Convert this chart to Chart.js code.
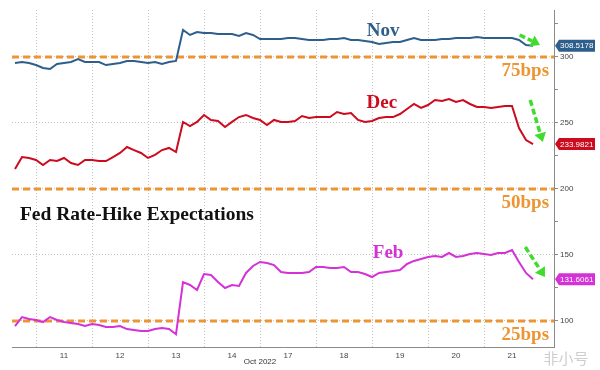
<!DOCTYPE html>
<html>
<head>
<meta charset="utf-8">
<script src="https://cdn.jsdelivr.net/npm/chart.js@4.4.0/dist/chart.umd.min.js"></script>
<style>
  html, body { margin: 0; padding: 0; background: #fff; }
  #wrap { width: 600px; height: 370px; }
</style>
</head>
<body>
<div id="wrap"><canvas id="rateChart" width="600" height="370"></canvas></div>
<script>
// intraday samples, 8 per trading day (Oct 10 afternoon .. Oct 21)
const dayLabels = ['11', '12', '13', '14', '17', '18', '19', '20', '21'];
const dayStart = [3, 11, 19, 27, 35, 43, 51, 59, 67];
const dayMid = [7, 15, 23, 31, 39, 47, 55, 63, 71];

const nov = [295.5, 296.2, 295.5, 293.9, 291.7, 290.9, 294.7, 295.5, 296.2, 298.5,
    296.2, 296.2, 296.2, 293.9, 294.7, 295.5, 297, 297, 296.2, 295.5,
    296.2, 294.7, 296.2, 297, 320.5, 316.7, 318.9, 318.2, 318.2, 317.4,
    317.4, 317.4, 315.9, 318.2, 316.7, 313.6, 313.6, 313.6, 313.6, 314.4,
    314.4, 313.6, 312.9, 312.9, 312.9, 313.6, 313.6, 314.4, 312.9, 312.9,
    312.1, 311.4, 309.8, 310.6, 311.4, 311.4, 312.9, 314.4, 312.9, 312.9,
    312.9, 313.6, 313.6, 314.4, 314.4, 314.4, 315.2, 314.4, 314.4, 314.4,
    314.4, 314.4, 312.9, 309.1, 308.5];
const dec = [215.2, 224.2, 223.5, 222, 218.2, 222, 221.2, 223.5, 219.7, 218.2,
    222, 222, 221.2, 221.2, 224.2, 227.3, 231.8, 229.5, 227.3, 223.5,
    225.8, 229.5, 231.1, 228, 250.8, 247.7, 250.8, 256.1, 252.3, 251.5,
    247, 250.8, 254.5, 256.1, 253.8, 252.3, 248.5, 252.3, 250.8, 250.8,
    251.5, 255.3, 253.8, 254.5, 254.5, 254.5, 258.3, 256.8, 257.6, 252.3,
    250.8, 251.5, 253.8, 254.5, 254.5, 256.8, 260.6, 264.4, 261.4, 263.6,
    267.4, 266.7, 268.2, 265.9, 267.4, 264.4, 262.1, 262.1, 261.4, 262.1,
    262.9, 262.9, 246.2, 237.1, 234];
const feb = [96.2, 103, 101.5, 100.8, 99.2, 103, 100.8, 99.2, 98.5, 97.7,
    96.2, 97.7, 97, 95.5, 95.5, 96.2, 93.9, 93.2, 92.4, 92.4,
    93.9, 94.7, 93.9, 90, 129.5, 127.3, 123.5, 135.6, 134.8, 129.5,
    125, 127.3, 126.5, 136.4, 141.7, 144.7, 143.9, 142.4, 137.1, 136.4,
    136.4, 136.4, 137.1, 140.9, 140.9, 140.2, 140.2, 140.9, 137.1, 137.1,
    135.6, 133.3, 136.4, 137.1, 137.9, 138.6, 143.2, 145.5, 147, 148.5,
    149.2, 148.5, 151.5, 148.5, 149.2, 150.8, 151.5, 150.8, 150, 151.5,
    151.5, 153.8, 144.7, 136.4, 131.6];

const seriesNames = ['Nov', 'Dec', 'Feb'];
const lastValues = ['308.5178', '233.9821', '131.6061'];
const bpsLevels = [300, 200, 100];
const bpsLabels = ['75bps', '50bps', '25bps'];
const yTicks = [100, 125, 150, 175, 200, 225, 250, 275, 300, 325];

const colors = ['#2e5f8c', '#cc0b1f', '#d431d6'];
const orange = '#ec9532';
const X_MIN = -0.43, X_MAX = 77;

const samples = nov.map((v, i) => i);

function levelLine(level) {
    return {
        data: [{x: X_MIN, y: level}, {x: X_MAX, y: level}],
        borderColor: orange,
        borderWidth: 3,
        borderDash: [7, 4],
        pointRadius: 0,
        order: 5
    };
}

// text, arrows, last-value boxes
const notes = {
    id: 'notes',
    afterDraw(chart) {
        const ctx = chart.ctx;
        const x = chart.scales.x, y = chart.scales.y;
        const area = chart.chartArea;
        ctx.save();

        // series names
        const namePos = [[52.6, 319.7], [52.4, 265.2], [53.3, 151.5]];
        ctx.font = 'bold 19px "Liberation Serif", serif';
        ctx.textAlign = 'center';
        ctx.textBaseline = 'middle';
        seriesNames.forEach((n, k) => {
            ctx.fillStyle = colors[k];
            ctx.fillText(n, x.getPixelForValue(namePos[k][0]), y.getPixelForValue(namePos[k][1]));
        });

        // bps labels under the orange lines
        bpsLabels.forEach((t, k) => {
            const cx = x.getPixelForValue(72.9);
            const cy = y.getPixelForValue(bpsLevels[k]) + 14;
            if (k === 2) {
                ctx.fillStyle = '#fff';
                ctx.fillRect(cx - 26, cy - 10, 52, 20);
            }
            ctx.fillStyle = orange;
            ctx.fillText(t, cx, cy);
        });

        // title
        ctx.textAlign = 'left';
        ctx.fillStyle = '#111';
        ctx.font = 'bold 19.5px "Liberation Serif", serif';
        ctx.fillText('Fed Rate-Hike Expectations', x.getPixelForValue(0.7), y.getPixelForValue(180.3));

        // green arrows
        const arrows = [[72.1, 316.7, 75, 309.1], [73.6, 267.4, 75.4, 235.6], [72.9, 156, 75.7, 133.3]];
        arrows.forEach(a => {
            const x1 = x.getPixelForValue(a[0]), y1 = y.getPixelForValue(a[1]);
            const x2 = x.getPixelForValue(a[2]), y2 = y.getPixelForValue(a[3]);
            const ang = Math.atan2(y2 - y1, x2 - x1);
            const hx = x2 - Math.cos(ang) * 9, hy = y2 - Math.sin(ang) * 9;
            ctx.strokeStyle = '#3fdc2c';
            ctx.lineWidth = 3.5;
            ctx.setLineDash([6, 3]);
            ctx.beginPath();
            ctx.moveTo(x1, y1);
            ctx.lineTo(hx, hy);
            ctx.stroke();
            ctx.setLineDash([]);
            ctx.fillStyle = '#3fdc2c';
            ctx.beginPath();
            ctx.moveTo(x2, y2);
            ctx.lineTo(hx + Math.cos(ang + Math.PI / 2) * 6, hy + Math.sin(ang + Math.PI / 2) * 6);
            ctx.lineTo(hx + Math.cos(ang - Math.PI / 2) * 6, hy + Math.sin(ang - Math.PI / 2) * 6);
            ctx.closePath();
            ctx.fill();
        });

        // last value boxes on the right axis
        const lasts = [nov[nov.length - 1], dec[dec.length - 1], feb[feb.length - 1]];
        ctx.font = '8px "Liberation Sans", sans-serif';
        ctx.textBaseline = 'middle';
        lasts.forEach((v, k) => {
            const by = y.getPixelForValue(v);
            const bx = area.right + 1;
            ctx.fillStyle = colors[k];
            ctx.beginPath();
            ctx.moveTo(bx, by);
            ctx.lineTo(bx + 4, by - 6);
            ctx.lineTo(bx + 40, by - 6);
            ctx.lineTo(bx + 40, by + 6);
            ctx.lineTo(bx + 4, by + 6);
            ctx.closePath();
            ctx.fill();
            ctx.fillStyle = '#fff';
            ctx.textAlign = 'left';
            ctx.fillText(lastValues[k], bx + 5, by + 0.5);
        });

        // date caption
        ctx.fillStyle = '#333';
        ctx.textAlign = 'center';
        ctx.font = '8px "Liberation Sans", sans-serif';
        ctx.fillText('Oct 2022', x.getPixelForValue(dayStart[4]), 362);

        // watermark
        ctx.fillStyle = 'rgba(190,190,190,0.75)';
        ctx.font = '15px "Noto Sans CJK SC", sans-serif';
        ctx.fillText('非小号', 566, 358);
        ctx.restore();
    }
};

new Chart(document.getElementById('rateChart'), {
    type: 'line',
    data: {
        labels: samples,
        datasets: [
            {data: nov, borderColor: colors[0], borderWidth: 2, pointRadius: 0, tension: 0, order: 0},
            {data: dec, borderColor: colors[1], borderWidth: 2, pointRadius: 0, tension: 0, order: 0},
            {data: feb, borderColor: colors[2], borderWidth: 2, pointRadius: 0, tension: 0, order: 0},
            levelLine(bpsLevels[0]),
            levelLine(bpsLevels[1]),
            levelLine(bpsLevels[2])
        ]
    },
    options: {
        responsive: false,
        animation: false,
        devicePixelRatio: 1,
        layout: {padding: {left: 12, top: 10, right: 0, bottom: 0}},
        plugins: {legend: {display: false}, tooltip: {enabled: false}},
        scales: {
            x: {
                type: 'linear',
                min: X_MIN,
                max: X_MAX,
                afterBuildTicks: s => {
                    s.ticks = dayStart.map(v => ({value: v})).concat(dayMid.map(v => ({value: v})));
                },
                afterFit: s => { s.height = 23; },
                grid: {
                    color: c => dayStart.includes(c.tick.value) ? '#c4c4c4' : 'transparent',
                    drawTicks: false
                },
                border: {color: '#8a8a8a', dash: [1, 2]},
                ticks: {
                    autoSkip: false,
                    maxRotation: 0,
                    padding: 4,
                    color: '#444',
                    font: {family: 'Liberation Sans', size: 8},
                    callback: v => {
                        const k = dayMid.indexOf(v);
                        return k >= 0 ? dayLabels[k] : '';
                    }
                }
            },
            y: {
                position: 'right',
                min: 80.3,
                max: 335.6,
                afterBuildTicks: s => { s.ticks = yTicks.map(v => ({value: v})); },
                afterFit: s => { s.width = 46; },
                grid: {
                    color: c => c.tick.value % 50 === 0 ? '#c4c4c4' : 'transparent',
                    tickColor: '#8a8a8a',
                    tickLength: 4,
                    tickBorderDash: []
                },
                border: {color: '#8a8a8a', dash: [1, 2]},
                ticks: {
                    padding: 2,
                    color: '#444',
                    font: {family: 'Liberation Sans', size: 8},
                    callback: v => v % 50 === 0 ? String(v) : ''
                }
            }
        }
    },
    plugins: [notes]
});
</script>
</body>
</html>
